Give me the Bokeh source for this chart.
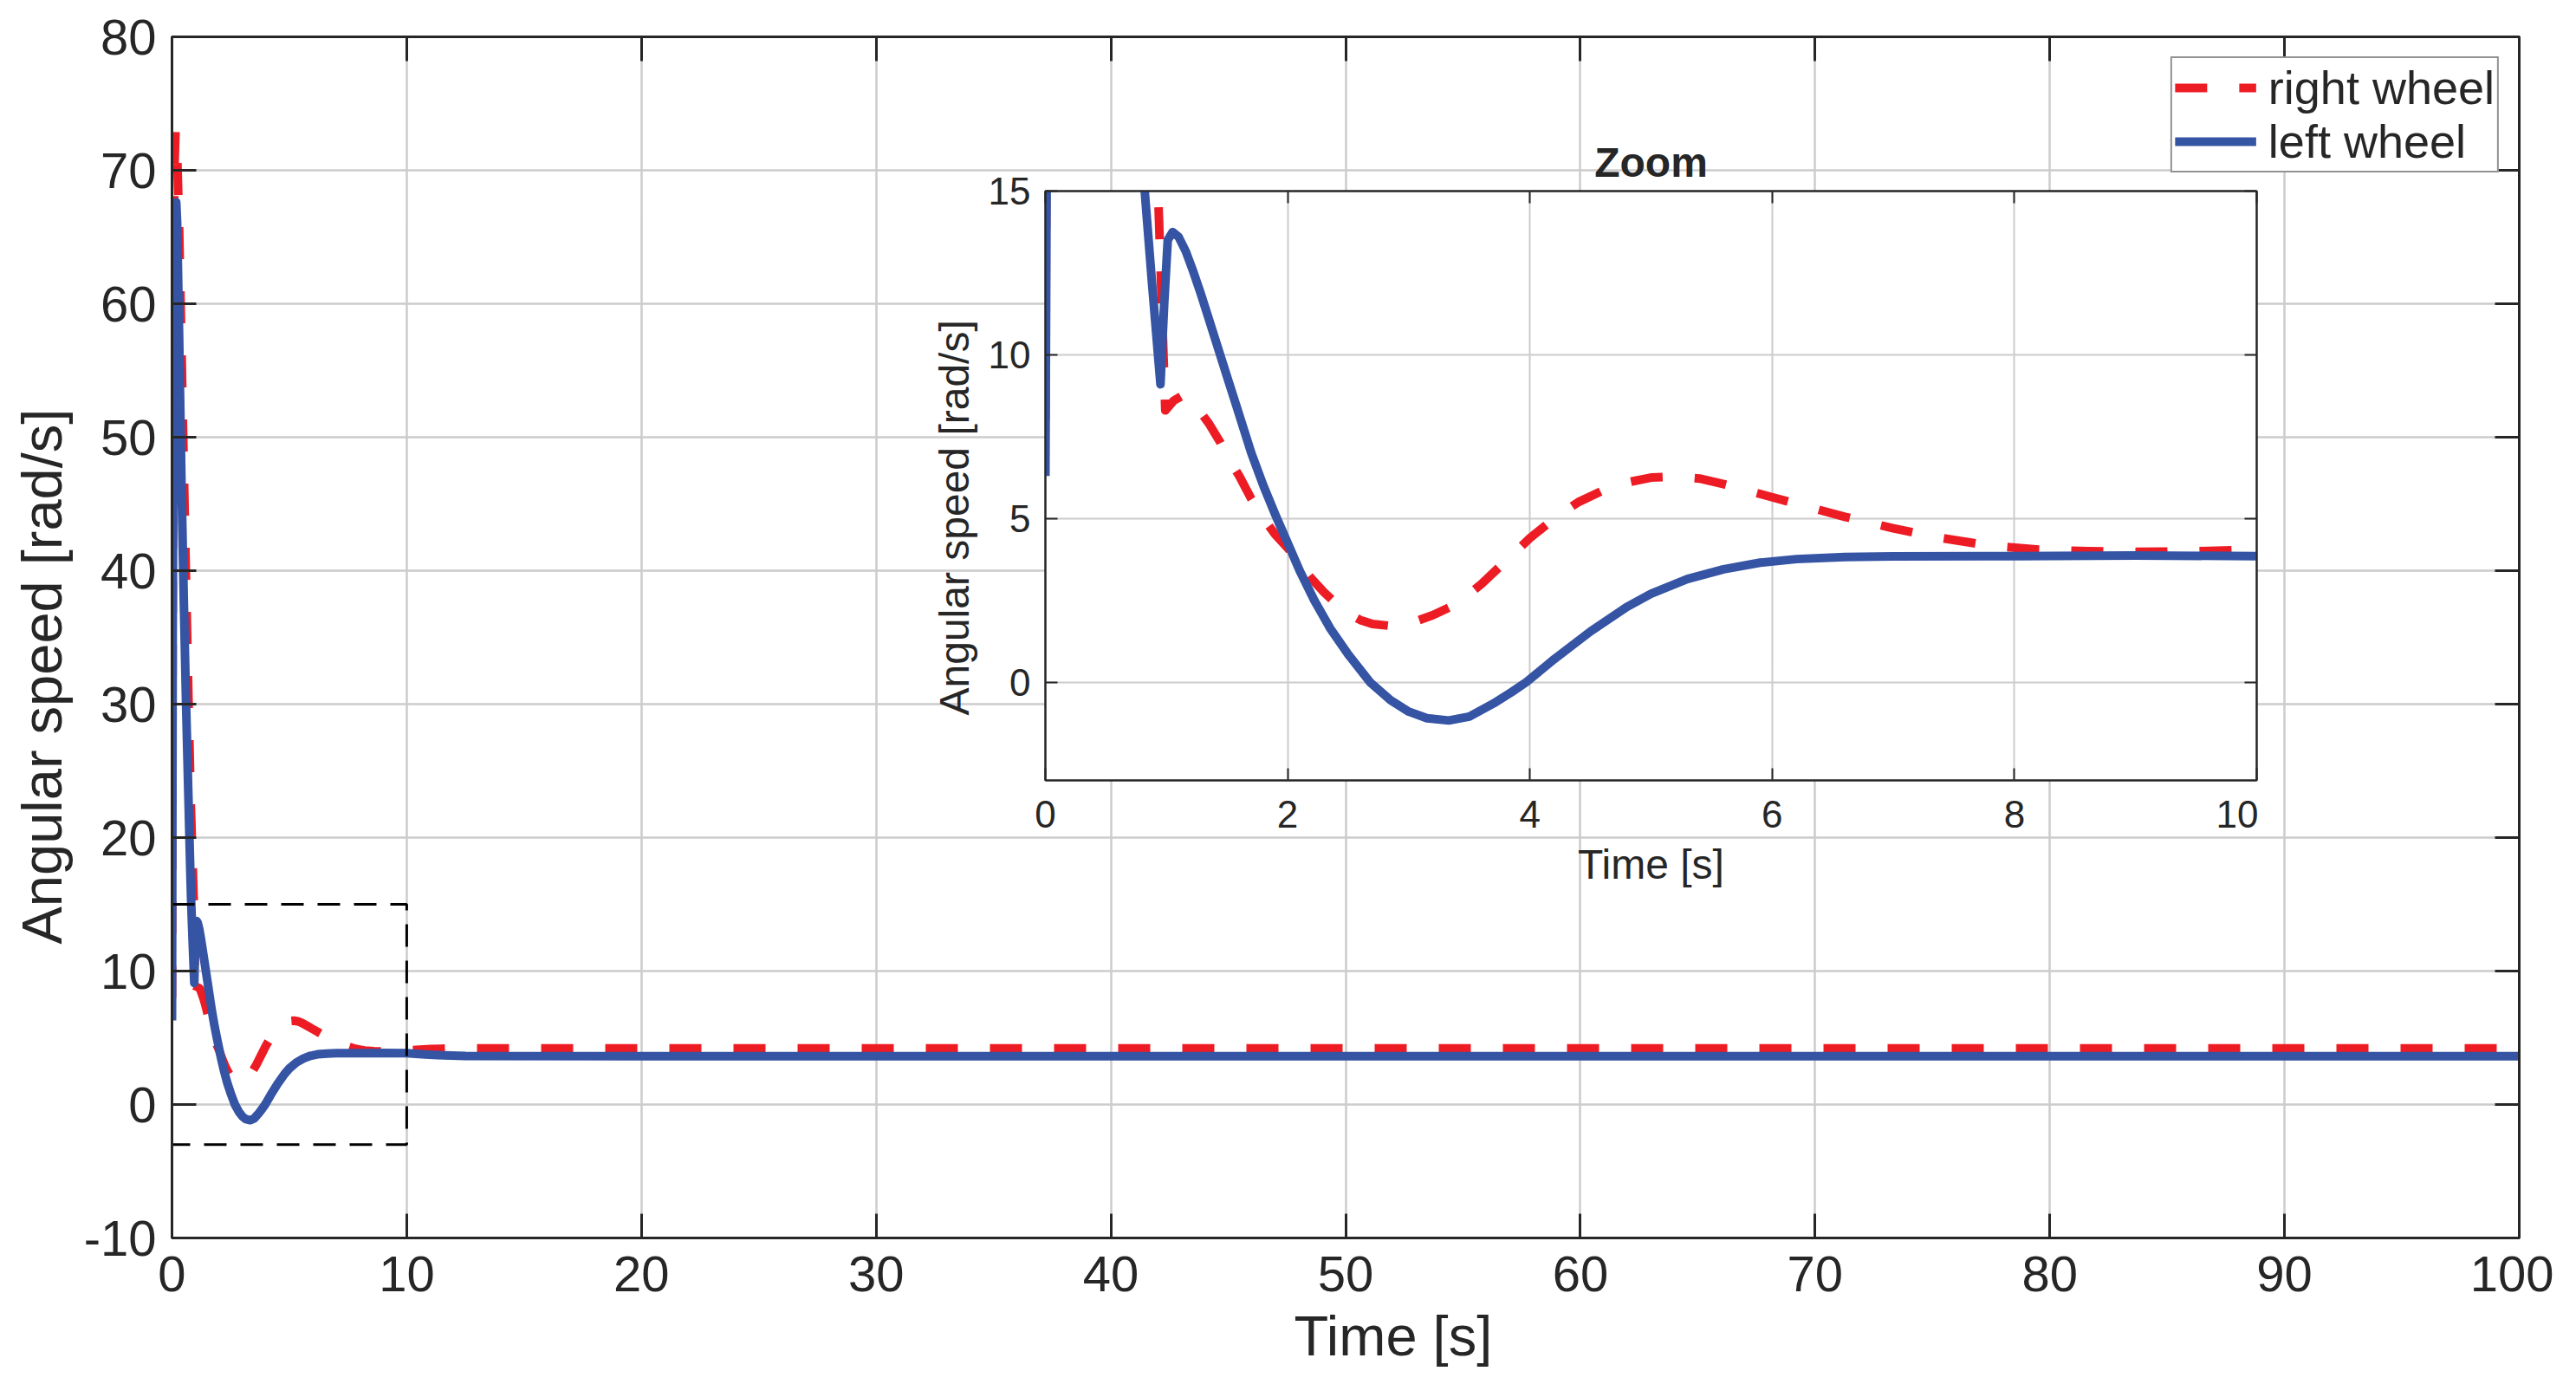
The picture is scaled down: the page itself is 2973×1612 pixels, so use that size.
from bokeh.plotting import figure
from bokeh.models import Range1d, LinearAxis, FixedTicker, Legend, LegendItem, Title
from bokeh.layouts import column
from bokeh.embed import file_html
from bokeh.resources import INLINE

# ---------------- data ----------------
t_right = [0.00, 0.02, 0.05, 0.10, 0.15, 0.20, 0.30, 0.40, 0.50, 0.60, 0.70, 0.80, 0.88, 0.93,
           0.99, 1.06, 1.13, 1.20, 1.26, 1.35, 1.44, 1.51, 1.60, 1.70, 1.80, 1.90, 2.00, 2.10,
           2.20, 2.30, 2.40, 2.50, 2.60, 2.70, 2.85, 3.00, 3.20, 3.40, 3.60, 3.80, 4.00, 4.20,
           4.40, 4.60, 4.80, 5.00, 5.20, 5.40, 5.60, 5.80, 6.00, 6.30, 6.60, 7.00, 7.40, 7.80,
           8.20, 8.60, 9.00, 9.50, 10.0, 11.0, 12.0, 20.0, 40.0, 60.0, 80.0, 100.0]
w_right = [8.0, 30.0, 55.0, 70.0, 72.9, 72.5, 66.0, 57.0, 48.0, 39.0, 30.5, 22.5, 18.0, 15.0,
           8.3, 8.6, 8.75, 8.65, 8.35, 7.9, 7.35, 6.85, 6.3, 5.6, 5.0, 4.5, 4.1, 3.6,
           3.15, 2.75, 2.4, 2.1, 1.9, 1.78, 1.72, 1.78, 2.05, 2.4, 3.0, 3.7, 4.4, 5.0,
           5.5, 5.85, 6.1, 6.25, 6.28, 6.22, 6.05, 5.85, 5.65, 5.35, 5.05, 4.7, 4.4, 4.17,
           4.05, 4.0, 3.98, 4.0, 4.05, 4.15, 4.2, 4.2, 4.2, 4.2, 4.2, 4.2]

t_left = [0.00, 0.01, 0.03, 0.08, 0.14, 0.18, 0.22, 0.30, 0.40, 0.50, 0.60, 0.70, 0.78, 0.82,
          0.88, 0.95, 0.98, 1.01, 1.05, 1.10, 1.16, 1.22, 1.28, 1.34, 1.40, 1.46, 1.52, 1.58,
          1.64, 1.70, 1.80, 1.90, 2.00, 2.10, 2.22, 2.35, 2.50, 2.68, 2.85, 3.00, 3.15, 3.33,
          3.50, 3.70, 3.85, 3.97, 4.20, 4.50, 4.80, 5.00, 5.30, 5.60, 5.90, 6.20, 6.60, 7.00,
          8.00, 9.00, 10.0, 10.8, 11.6, 12.5, 20.0, 40.0, 60.0, 80.0, 100.0]
w_left = [6.3, 15.0, 35.0, 58.0, 66.0, 67.6, 66.0, 58.0, 47.0, 38.0, 30.0, 23.0, 17.5, 15.0,
          12.2, 9.1, 11.5, 13.5, 13.75, 13.6, 13.15, 12.55, 11.9, 11.2, 10.5, 9.8, 9.1, 8.4,
          7.7, 7.0, 6.0, 5.1, 4.25, 3.4, 2.5, 1.65, 0.85, 0.0, -0.55, -0.9, -1.1, -1.17,
          -1.05, -0.65, -0.3, 0.0, 0.7, 1.55, 2.3, 2.7, 3.15, 3.45, 3.65, 3.76, 3.82, 3.84,
          3.85, 3.87, 3.85, 3.75, 3.68, 3.63, 3.62, 3.62, 3.62, 3.62, 3.62]

series_names = ["right wheel", "left wheel"]

x_ticks = [0, 10, 20, 30, 40, 50, 60, 70, 80, 90, 100]
y_ticks = [-10, 0, 10, 20, 30, 40, 50, 60, 70, 80]
x_limits = [0, 100]
y_limits = [-10, 80]

zoom_x = [0, 10]
zoom_y = [-3, 15]
inset_x_ticks = [0, 2, 4, 6, 8, 10]
inset_y_ticks = [0, 5, 10, 15]

# ---------------- style ----------------
FONT = "Liberation Sans"
AXC = "#262626"
GRID = "#cccccc"
RED = "#ed1c24"
BLUE = "#3654a4"


def style_axis(ax, ticks, size, tick_len, standoff, width=3):
    ax.ticker = FixedTicker(ticks=ticks)
    ax.major_tick_in = tick_len
    ax.major_tick_out = 0
    ax.minor_tick_in = 0
    ax.minor_tick_out = 0
    ax.axis_line_color = AXC
    ax.axis_line_width = width
    ax.major_tick_line_color = AXC
    ax.major_tick_line_width = width
    ax.major_label_text_font = FONT
    ax.major_label_text_font_size = size
    ax.major_label_text_color = AXC
    ax.major_label_standoff = standoff


def blank_axis(ax, ticks):
    ax.major_label_overrides = {t: "" for t in ticks}
    ax.major_label_text_font_size = "1px"
    ax.major_label_standoff = 0


def label_title(text, size, offset, standoff):
    return Title(text=text, align="left", offset=offset, standoff=standoff,
                 text_font=FONT, text_font_size=size, text_font_style="normal",
                 text_color=AXC)


# ---------------- main figure ----------------
p = figure(frame_width=2709, frame_height=1386,
           x_range=Range1d(*x_limits), y_range=Range1d(*y_limits),
           output_backend="svg", toolbar_location=None,
           min_border_left=198, min_border_right=40, min_border_top=42, min_border_bottom=180,
           background_fill_color="white", border_fill_color="white",
           outline_line_color=AXC, outline_line_width=3)

style_axis(p.xaxis[0], x_ticks, "58px", 28, 21)
style_axis(p.yaxis[0], y_ticks, "58px", 28, 18)
p.yaxis[0].major_label_overrides = {-10: "-10"}
top_ax = LinearAxis()
style_axis(top_ax, x_ticks, "1px", 28, 0)
blank_axis(top_ax, x_ticks)
p.add_layout(top_ax, "above")
right_ax = LinearAxis()
style_axis(right_ax, y_ticks, "1px", 28, 0)
blank_axis(right_ax, y_ticks)
p.add_layout(right_ax, "right")

p.xgrid.ticker = FixedTicker(ticks=x_ticks)
p.ygrid.ticker = FixedTicker(ticks=y_ticks)
for g in (p.xgrid[0], p.ygrid[0]):
    g.grid_line_color = GRID
    g.grid_line_width = 2.5

r_red = p.line(t_right, w_right, line_color=RED, line_width=10, line_dash="37 37", line_join="round")
r_blue = p.line(t_left, w_left, line_color=BLUE, line_width=10, line_join="round")

p.quad(left=[zoom_x[0]], right=[zoom_x[1]], bottom=[zoom_y[0]], top=[zoom_y[1]],
       fill_color=None, line_color="black", line_width=3, line_dash="26 16")

legend = Legend(items=[LegendItem(label=series_names[0], renderers=[r_red]),
                       LegendItem(label=series_names[1], renderers=[r_blue])],
                location="top_right", margin=23, padding=3, spacing=0,
                glyph_width=94, glyph_height=40, label_standoff=14,
                label_text_font=FONT, label_text_font_size="54px", label_text_color=AXC,
                border_line_color=AXC, border_line_width=2,
                background_fill_color="white", background_fill_alpha=1.0)
p.add_layout(legend)

p.add_layout(label_title("Time [s]", "65px", 1295, 20), "below")
p.add_layout(label_title("Angular speed [rad/s]", "65px", 339, 17), "left")

# ---------------- inset figure ----------------
ins = figure(frame_width=1398, frame_height=680,
             x_range=Range1d(*zoom_x), y_range=Range1d(*zoom_y),
             output_backend="svg", toolbar_location=None,
             min_border_left=160, min_border_right=40, min_border_top=71, min_border_bottom=139,
             background_fill_color="white", border_fill_color=None,
             outline_line_color=AXC, outline_line_width=2,
             title="Zoom",
             styles={"position": "absolute", "left": "1008px", "top": "149px", "z-index": "2"})
ins.title.align = "center"
ins.title.text_font = FONT
ins.title.text_font_size = "48px"
ins.title.text_font_style = "bold"
ins.title.text_color = AXC
ins.title.standoff = 13

style_axis(ins.xaxis[0], inset_x_ticks, "44px", 14, 23, width=2)
style_axis(ins.yaxis[0], inset_y_ticks, "44px", 14, 17, width=2)
ins.xaxis[0].axis_label = "Time [s]"
ins.xaxis[0].axis_label_text_font = FONT
ins.xaxis[0].axis_label_text_font_size = "48px"
ins.xaxis[0].axis_label_text_font_style = "normal"
ins.xaxis[0].axis_label_text_color = AXC
ins.xaxis[0].axis_label_standoff = 13

itop = LinearAxis()
style_axis(itop, inset_x_ticks, "1px", 14, 0, width=2)
blank_axis(itop, inset_x_ticks)
ins.add_layout(itop, "above")
iright = LinearAxis()
style_axis(iright, inset_y_ticks, "1px", 14, 0, width=2)
blank_axis(iright, inset_y_ticks)
ins.add_layout(iright, "right")

ins.xgrid.ticker = FixedTicker(ticks=inset_x_ticks)
ins.ygrid.ticker = FixedTicker(ticks=inset_y_ticks)
for g in (ins.xgrid[0], ins.ygrid[0]):
    g.grid_line_color = GRID
    g.grid_line_width = 2

ins.line(t_right, w_right, line_color=RED, line_width=10, line_dash="37 37", line_join="round")
ins.line(t_left, w_left, line_color=BLUE, line_width=10, line_join="round")

ins.add_layout(label_title("Angular speed [rad/s]", "48px", 75, 20), "left")

layout = column(p, ins, styles={"position": "relative"})

open("out.html", "w").write(file_html(layout, INLINE))
